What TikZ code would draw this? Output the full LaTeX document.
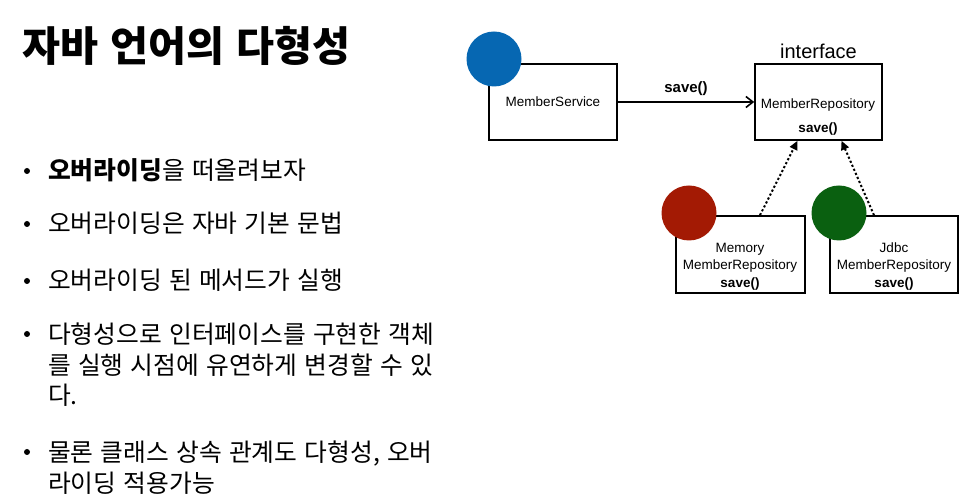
\documentclass[tikz,border=0pt]{standalone}
\usepackage{fontspec}
\setmainfont{Liberation Sans}
\newfontfamily\krfont[WordSpace=3]{Noto Sans CJK KR}
\newfontfamily\krhead[WordSpace=1.3]{Noto Sans CJK KR}
\usetikzlibrary{arrows.meta, positioning}
\definecolor{svcblue}{RGB}{6,103,178}
\definecolor{memred}{RGB}{163,26,4}
\definecolor{jdbcgreen}{RGB}{10,96,16}
\tikzstyle{cls}     = [rectangle, draw=black, line width=1.6pt, fill=white,
                       inner sep=0pt, font=\fontsize{13.5}{17.5}\selectfont]
\tikzstyle{clstext} = [align=center, inner sep=0pt,
                       font=\fontsize{13.5}{17.5}\selectfont]
\tikzstyle{badge}   = [circle, minimum size=55pt, inner sep=0pt]
\tikzstyle{btext}   = [anchor=base west, align=left, inner sep=0pt,
                       font=\krfont\fontsize{24.75}{30.5}\selectfont]
\tikzstyle{bdot}    = [circle, fill=black, minimum size=6pt, inner sep=0pt]
\tikzstyle{arrow}   = [-{Straight Barb[length=7pt, width=11pt]}, line width=1.6pt]
\tikzstyle{darrow}  = [-{Triangle[length=9pt, width=8pt]}, line width=2pt,
                       dash pattern=on 2.2pt off 2.2pt]
\begin{document}
\begin{tikzpicture}[x=1pt, y=-1pt]
  \useasboundingbox (0,0) rectangle (970,502);

  \node[anchor=base west, inner sep=0pt,
        font=\krhead\bfseries\fontsize{41.3}{46}\selectfont] (title) at (22,62)
    {자바 언어의 다형성};

  % bullets
  \node[btext] (b1) at (48,180) {\textbf{오버라이딩}을 떠올려보자};
  \node[btext] (b2) at (48,233) {오버라이딩은 자바 기본 문법};
  \node[btext] (b3) at (48,290) {오버라이딩 된 메서드가 실행};
  \node[btext, anchor=north west] (b4) at (48,323)
    {다형성으로 인터페이스를 구현한 객체\\를 실행 시점에 유연하게 변경할 수 있\\다.};
  \node[btext, anchor=north west] (b5) at (48,441)
    {물론 클래스 상속 관계도 다형성, 오버\\라이딩 적용가능};
  \node[bdot] (d1) at (27,171) {};
  \node[bdot] (d2) at (27,224) {};
  \node[bdot] (d3) at (27,281) {};
  \node[bdot] (d4) at (27,334) {};
  \node[bdot] (d5) at (27,452) {};

  % classes
  \node[cls, minimum width=128pt, minimum height=76pt] (svc) at (553,102)
    {MemberService};
  \node[cls, minimum width=127pt, minimum height=76pt] (repo) at (818.5,102) {};
  \node[clstext] (repotxt) at (818,117) {MemberRepository\\[6pt]\textbf{save()}};
  \node[above=4pt of repo, inner sep=0pt, font=\fontsize{20}{24}\selectfont]
    (iface) {interface};
  \node[cls, minimum width=129pt, minimum height=77pt] (mem) at (740.5,254.5) {};
  \node[clstext] (memtxt) at (740,266.5)
    {Memory\\MemberRepository\\\textbf{save()}};
  \node[cls, minimum width=128pt, minimum height=77pt] (jdbc) at (894,254.5) {};
  \node[clstext] (jdbctxt) at (894,266.5)
    {Jdbc\\MemberRepository\\\textbf{save()}};

  \draw[arrow] (svc) -- node[above=2pt, font=\bfseries\fontsize{15}{18}\selectfont]
    {save()} (repo);
  \draw[darrow] ([xshift=19.5pt]mem.north) -- ([xshift=-21pt]repo.south);
  \draw[darrow] ([xshift=-20pt]jdbc.north) -- ([xshift=23pt]repo.south);

  \node[badge, fill=svcblue] (svcdot) at (494,59) {};
  \node[badge, fill=memred] (memdot) at (689,213) {};
  \node[badge, fill=jdbcgreen] (jdbcdot) at (839,213) {};
\end{tikzpicture}
\end{document}
